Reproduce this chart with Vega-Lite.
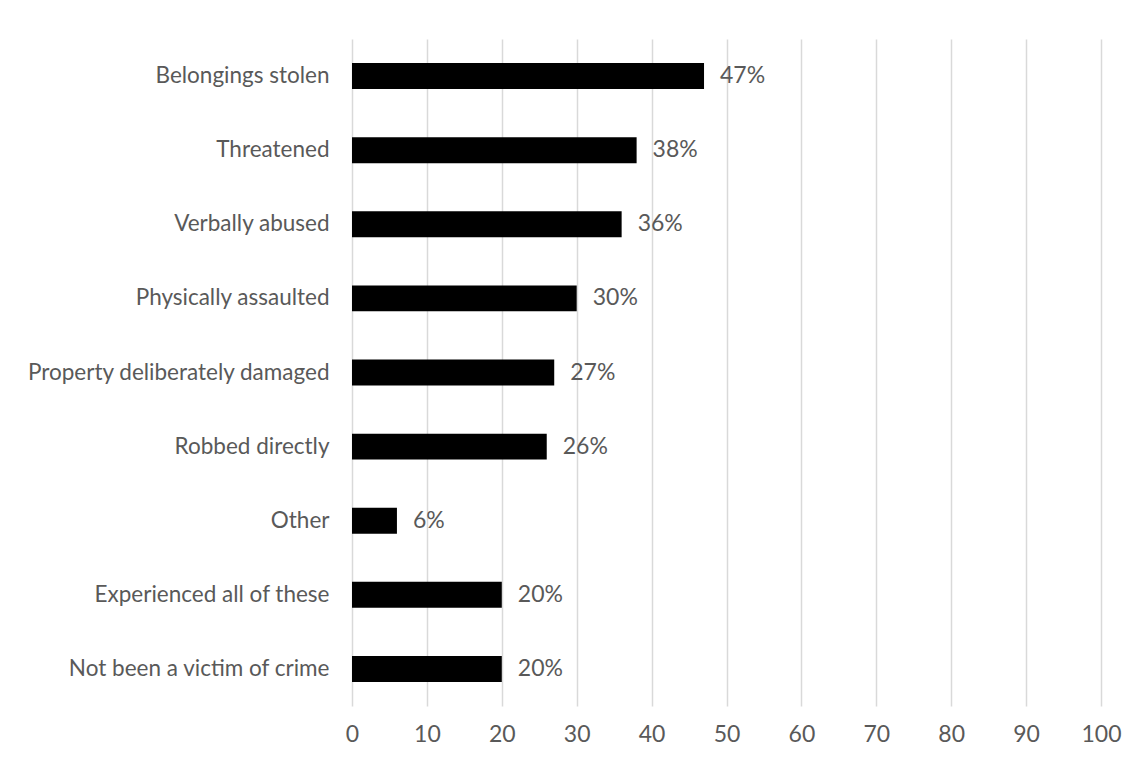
{
  "$schema": "https://vega.github.io/schema/vega-lite/v6.json",
  "autosize": "none",
  "width": 749,
  "height": 667,
  "padding": {"left": 352, "top": 39, "right": 35, "bottom": 55},
  "background": "white",
  "config": {
    "view": {"stroke": null},
    "font": "Lato, sans-serif"
  },
  "data": {
    "values": [
      {"category": "Belongings stolen", "value": 47, "label": "47%"},
      {"category": "Threatened", "value": 38, "label": "38%"},
      {"category": "Verbally abused", "value": 36, "label": "36%"},
      {"category": "Physically assaulted", "value": 30, "label": "30%"},
      {"category": "Property deliberately damaged", "value": 27, "label": "27%"},
      {"category": "Robbed directly", "value": 26, "label": "26%"},
      {"category": "Other", "value": 6, "label": "6%"},
      {"category": "Experienced all of these", "value": 20, "label": "20%"},
      {"category": "Not been a victim of crime", "value": 20, "label": "20%"}
    ]
  },
  "encoding": {
    "y": {
      "field": "category",
      "type": "nominal",
      "sort": null,
      "scale": {"paddingInner": 0.65, "paddingOuter": 0.325},
      "axis": {
        "title": null,
        "domain": false,
        "ticks": false,
        "grid": false,
        "labelPadding": 23,
        "labelFontSize": 22.5,
        "labelColor": "#595959",
        "labelFont": "Lato, sans-serif",
        "labelLimit": 400
      }
    },
    "x": {
      "field": "value",
      "type": "quantitative",
      "scale": {"domain": [0, 100], "nice": false},
      "axis": {
        "title": null,
        "values": [0, 10, 20, 30, 40, 50, 60, 70, 80, 90, 100],
        "domain": false,
        "ticks": false,
        "grid": true,
        "gridColor": "#d9d9d9",
        "gridWidth": 1.5,
        "labelFlush": false,
        "labelPadding": 17,
        "labelFontSize": 23,
        "labelColor": "#595959",
        "labelFont": "Lato, sans-serif"
      }
    }
  },
  "layer": [
    {"mark": {"type": "bar", "color": "#000000"}},
    {
      "mark": {"type": "text", "align": "left", "baseline": "middle", "dx": 16, "fontSize": 23, "color": "#595959"},
      "encoding": {"text": {"field": "label", "type": "nominal"}}
    }
  ]
}
